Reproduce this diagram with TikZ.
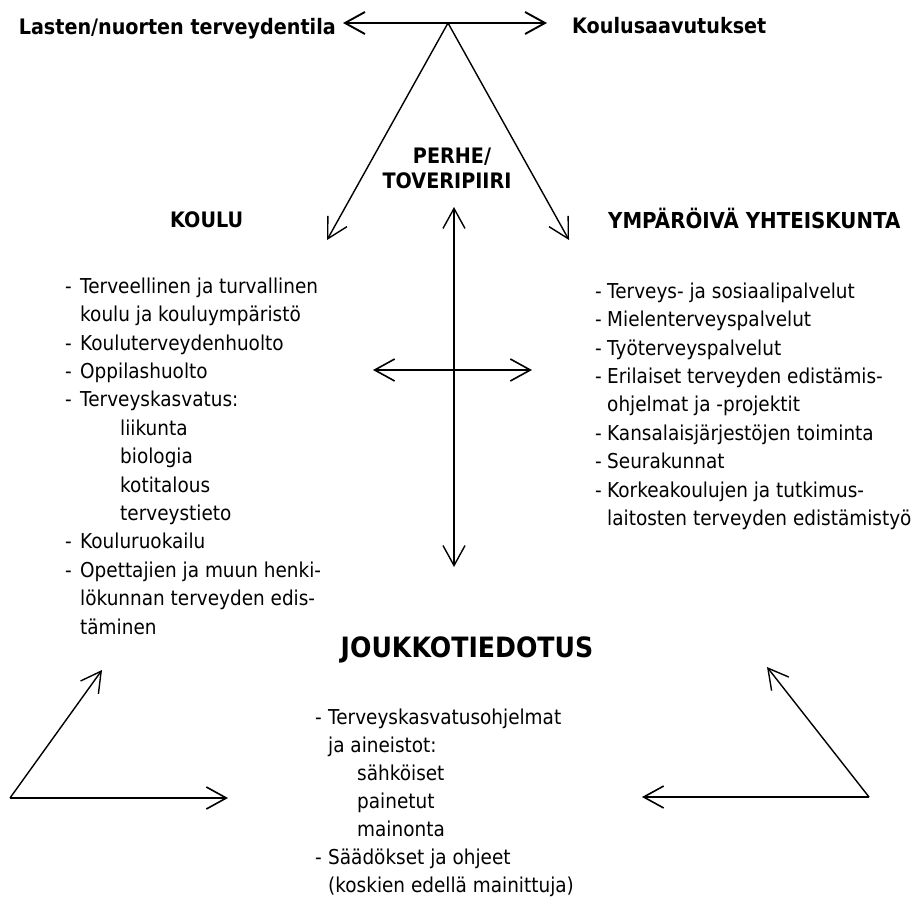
\documentclass[tikz,border=0pt]{standalone}
\usepackage{fontspec}
\setmainfont{DejaVu Sans}[FakeStretch=0.9]
\usetikzlibrary{arrows.meta}
\newcommand\listdash[1]{\makebox[#1][l]{-}}
\begin{document}
\begin{tikzpicture}[x=1pt,y=-1pt,
  txt/.style={inner sep=0pt, font=\fontsize{20.5}{24}\selectfont, anchor=base west},
  hd/.style={inner sep=0pt, font=\fontsize{21.3}{24}\selectfont\bfseries, anchor=base west},
  barb/.tip={Straight Barb[length=20pt,width=22pt]},
  arr/.style={line width=1.4pt, -barb},
  darr/.style={line width=1.4pt, barb-barb}]
\useasboundingbox (0,0) rectangle (917,899);

% headings
\node[hd, anchor=base east] (health) at (336,35) {Lasten/nuorten terveydentila};
\node[hd] (school) at (572,34) {Koulusaavutukset};
\node[hd, anchor=base] (perhe) at (452,163) {PERHE/};
\node[hd, anchor=base] (tover) at (447,188) {TOVERIPIIRI};
\node[hd] (koulu) at (170,227) {KOULU};
\node[hd, font=\fontsize{22}{24}\selectfont\bfseries] (ymp) at (608,228) {YMPÄRÖIVÄ YHTEISKUNTA};
\node[hd, font=\fontsize{28}{30}\selectfont\bfseries, anchor=base] (jouk) at (467,657) {JOUKKOTIEDOTUS};

% left column
\foreach \n/\x/\k/\t in {
  a0/65/0/{\listdash{15pt}Terveellinen ja turvallinen},
  a1/80/1/{koulu ja kouluympäristö},
  a2/65/2/{\listdash{15pt}Kouluterveydenhuolto},
  a3/65/3/{\listdash{15pt}Oppilashuolto},
  a4/65/4/{\listdash{15pt}Terveyskasvatus:},
  a5/120/5/{liikunta},
  a6/120/6/{biologia},
  a7/120/7/{kotitalous},
  a8/120/8/{terveystieto},
  a9/65/9/{\listdash{15pt}Kouluruokailu},
  a10/65/10/{\listdash{15pt}Opettajien ja muun henki-},
  a11/80/11/{lökunnan terveyden edis-},
  a12/80/12/{täminen}}
  \node[txt] (\n) at (\x,{293.3+28.4*\k}) {\t};

% right column
\foreach \n/\x/\k/\t in {
  b0/595/0/{\listdash{12pt}Terveys- ja sosiaalipalvelut},
  b1/595/1/{\listdash{12pt}Mielenterveyspalvelut},
  b2/595/2/{\listdash{12pt}Työterveyspalvelut},
  b3/595/3/{\listdash{12pt}Erilaiset terveyden edistämis-},
  b4/607/4/{ohjelmat ja -projektit},
  b5/595/5/{\listdash{12pt}Kansalaisjärjestöjen toiminta},
  b6/595/6/{\listdash{12pt}Seurakunnat},
  b7/595/7/{\listdash{12pt}Korkeakoulujen ja tutkimus-},
  b8/607/8/{laitosten terveyden edistämistyö}}
  \node[txt] (\n) at (\x,{298.3+28.4*\k}) {\t};

% middle column
\foreach \n/\x/\k/\t in {
  c0/315/0/{\listdash{13pt}Terveyskasvatusohjelmat},
  c1/328/1/{ja aineistot:},
  c2/357/2/{sähköiset},
  c3/357/3/{painetut},
  c4/357/4/{mainonta},
  c5/315/5/{\listdash{13pt}Säädökset ja ohjeet},
  c6/328/6/{(koskien edellä mainittuja)}}
  \node[txt] (\n) at (\x,{724+28.1*\k}) {\t};

% connectors
\coordinate (apex) at (448,23);
\coordinate (tL) at (343,23);
\coordinate (tR) at (547,23);
\coordinate (kL) at (327,240);
\coordinate (kR) at (569,240);
\coordinate (vT) at (454,207);
\coordinate (vB) at (454,567);
\coordinate (hL) at (373,370);
\coordinate (hR) at (532,370);
\coordinate (cL) at (10,798);
\coordinate (bl1) at (228,798);
\coordinate (bl2) at (102,670);
\coordinate (cR) at (869,797);
\coordinate (br1) at (642,797);
\coordinate (br2) at (767,667);

\draw[darr, line width=1.9pt] (tL) -- (tR);
\draw[arr] (apex) -- (kL);
\draw[arr] (apex) -- (kR);
\draw[darr] (vT) -- (vB);
\draw[darr, line width=1.6pt] (hL) -- (hR);
\draw[arr, line width=1.6pt] (cL) -- (bl1);
\draw[arr] (cL) -- (bl2);
\draw[arr, line width=1.6pt] (cR) -- (br1);
\draw[arr] (cR) -- (br2);
\end{tikzpicture}
\end{document}
